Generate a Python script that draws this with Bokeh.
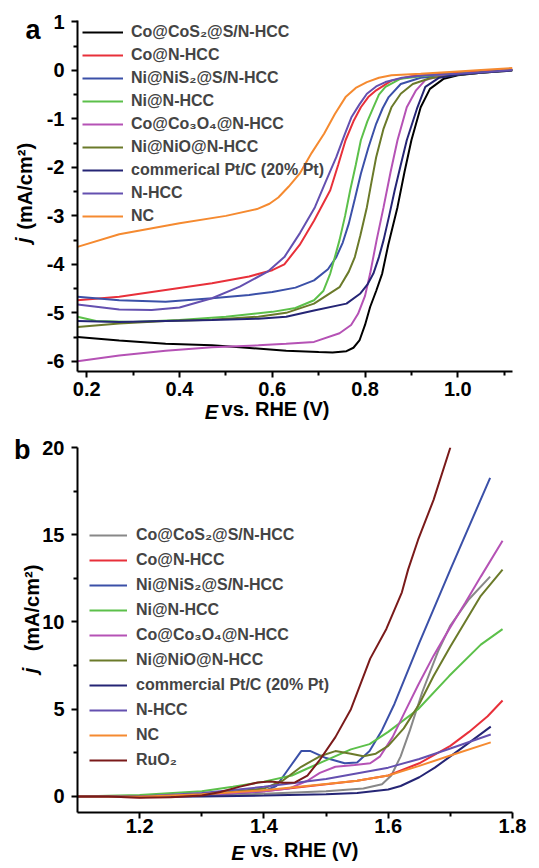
import math
from bokeh.plotting import figure
from bokeh.layouts import column
from bokeh.models import Legend, LegendItem, FixedTicker, LinearAxis
from bokeh.embed import file_html
from bokeh.resources import INLINE

# ---------------- Panel a (ORR LSV) ----------------
A_LABELS = ["Co@CoS₂@S/N-HCC", "Co@N-HCC", "Ni@NiS₂@S/N-HCC", "Ni@N-HCC",
            "Co@Co₃O₄@N-HCC", "Ni@NiO@N-HCC", "commerical Pt/C (20% Pt)", "N-HCC", "NC"]

a_E_CoCoS2 = [0.18, 0.27, 0.37, 0.47, 0.53, 0.63, 0.70, 0.73, 0.76, 0.775, 0.788, 0.80, 0.811, 0.824, 0.837, 0.85, 0.87, 0.885, 0.90, 0.92, 0.94, 0.97, 1.0, 1.05, 1.118]
a_j_CoCoS2 = [-5.50, -5.57, -5.64, -5.67, -5.71, -5.78, -5.81, -5.82, -5.79, -5.72, -5.57, -5.25, -4.88, -4.55, -4.19, -3.6, -2.82, -2.1, -1.44, -0.76, -0.38, -0.17, -0.1, -0.05, 0.01]

a_E_CoNHCC = [0.18, 0.27, 0.37, 0.47, 0.55, 0.60, 0.626, 0.659, 0.69, 0.725, 0.742, 0.758, 0.775, 0.791, 0.807, 0.824, 0.857, 0.9, 0.95, 1.0, 1.05, 1.118]
a_j_CoNHCC = [-4.74, -4.67, -4.53, -4.39, -4.25, -4.12, -4.0, -3.6, -3.1, -2.47, -1.95, -1.44, -1.05, -0.76, -0.55, -0.41, -0.21, -0.12, -0.08, -0.05, -0.02, 0.02]

a_E_NiNiS2 = [0.18, 0.27, 0.37, 0.47, 0.55, 0.60, 0.65, 0.69, 0.72, 0.738, 0.752, 0.765, 0.778, 0.791, 0.807, 0.824, 0.838, 0.851, 0.877, 0.92, 1.0, 1.05, 1.118]
a_j_NiNiS2 = [-4.67, -4.74, -4.77, -4.70, -4.63, -4.57, -4.48, -4.33, -4.1, -3.85, -3.55, -3.16, -2.65, -2.13, -1.6, -1.1, -0.78, -0.55, -0.28, -0.15, -0.08, -0.04, 0.01]

a_E_NiNHCC = [0.18, 0.22, 0.30, 0.40, 0.50, 0.60, 0.65, 0.69, 0.71, 0.725, 0.735, 0.745, 0.757, 0.768, 0.78, 0.791, 0.805, 0.818, 0.83, 0.844, 0.877, 0.93, 1.0, 1.05, 1.118]
a_j_NiNHCC = [-5.08, -5.17, -5.19, -5.15, -5.08, -4.98, -4.90, -4.74, -4.55, -4.19, -3.85, -3.5, -3.0, -2.47, -1.95, -1.44, -1.05, -0.76, -0.5, -0.34, -0.17, -0.11, -0.07, -0.04, 0.01]

a_E_CoCo3O4 = [0.18, 0.27, 0.37, 0.47, 0.57, 0.63, 0.69, 0.745, 0.77, 0.785, 0.80, 0.811, 0.825, 0.84, 0.855, 0.87, 0.89, 0.91, 0.93, 0.96, 1.0, 1.05, 1.118]
a_j_CoCo3O4 = [-6.0, -5.88, -5.78, -5.71, -5.67, -5.64, -5.60, -5.42, -5.25, -5.02, -4.65, -4.19, -3.5, -2.82, -2.1, -1.44, -0.76, -0.41, -0.2, -0.12, -0.08, -0.04, 0.01]

a_E_NiNiO = [0.18, 0.27, 0.37, 0.47, 0.57, 0.63, 0.69, 0.745, 0.765, 0.778, 0.79, 0.804, 0.814, 0.824, 0.84, 0.857, 0.877, 0.903, 0.94, 1.0, 1.05, 1.118]
a_j_NiNiO = [-5.29, -5.22, -5.17, -5.14, -5.08, -5.0, -4.81, -4.47, -4.15, -3.85, -3.4, -2.82, -2.3, -1.79, -1.2, -0.76, -0.48, -0.28, -0.16, -0.09, -0.05, 0.0]

a_E_PtC = [0.18, 0.27, 0.37, 0.47, 0.57, 0.63, 0.69, 0.76, 0.79, 0.805, 0.818, 0.83, 0.84, 0.852, 0.864, 0.877, 0.89, 0.913, 0.93, 0.96, 1.0, 1.05, 1.118]
a_j_PtC = [-5.17, -5.19, -5.17, -5.15, -5.12, -5.08, -4.95, -4.81, -4.60, -4.42, -4.19, -3.85, -3.5, -3.0, -2.47, -1.95, -1.44, -0.76, -0.34, -0.15, -0.09, -0.05, 0.0]

a_E_NHCC = [0.18, 0.27, 0.34, 0.40, 0.47, 0.53, 0.59, 0.626, 0.66, 0.692, 0.715, 0.738, 0.755, 0.771, 0.788, 0.804, 0.824, 0.844, 0.88, 0.93, 1.0, 1.05, 1.118]
a_j_NHCC = [-4.83, -4.93, -4.94, -4.89, -4.70, -4.46, -4.15, -3.85, -3.35, -2.82, -2.3, -1.79, -1.35, -0.96, -0.7, -0.48, -0.33, -0.24, -0.15, -0.1, -0.07, -0.04, 0.01]

a_E_NC = [0.18, 0.27, 0.40, 0.50, 0.567, 0.594, 0.613, 0.635, 0.659, 0.685, 0.712, 0.735, 0.758, 0.78, 0.804, 0.83, 0.857, 0.92, 1.0, 1.05, 1.118]
a_j_NC = [-3.64, -3.38, -3.15, -3.0, -2.86, -2.75, -2.62, -2.4, -2.13, -1.7, -1.3, -0.9, -0.55, -0.36, -0.24, -0.15, -0.10, -0.07, -0.02, 0.01, 0.05]

A_COLORS = ["#000000", "#e8303a", "#3b50a8", "#5cc04a", "#b552b5", "#6b7a2a", "#252575", "#6450b0", "#f58a30"]

A_X_TICKS = [0.2, 0.4, 0.6, 0.8, 1.0]
A_X_MINOR = [0.3, 0.5, 0.7, 0.9, 1.1]
A_Y_TICKS = [-6, -5, -4, -3, -2, -1, 0, 1]
A_Y_MINOR = [-5.5, -4.5, -3.5, -2.5, -1.5, -0.5, 0.5]

# ---------------- Panel b (OER LSV) ----------------
B_LABELS = ["Co@CoS₂@S/N-HCC", "Co@N-HCC", "Ni@NiS₂@S/N-HCC", "Ni@N-HCC",
            "Co@Co₃O₄@N-HCC", "Ni@NiO@N-HCC", "commercial Pt/C (20% Pt)", "N-HCC", "NC", "RuO₂"]

b_E_CoCoS2 = [1.1, 1.2, 1.3, 1.4, 1.5, 1.56, 1.59, 1.605, 1.62, 1.635, 1.655, 1.68, 1.70, 1.73, 1.764]
b_j_CoCoS2 = [0.0, -0.03, 0.05, 0.15, 0.3, 0.45, 0.7, 1.2, 2.3, 3.8, 6.0, 8.3, 9.8, 11.3, 12.6]

b_E_CoNHCC = [1.1, 1.2, 1.3, 1.4, 1.5, 1.55, 1.6, 1.65, 1.7, 1.73, 1.76, 1.784]
b_j_CoNHCC = [0.0, -0.05, 0.1, 0.3, 0.7, 0.9, 1.2, 1.9, 2.9, 3.7, 4.6, 5.5]

b_E_NiNiS2 = [1.1, 1.2, 1.3, 1.4, 1.42, 1.44, 1.46, 1.475, 1.5, 1.53, 1.55, 1.57, 1.59, 1.61, 1.65, 1.70, 1.764]
b_j_NiNiS2 = [0.0, -0.03, 0.05, 0.3, 0.6, 1.6, 2.6, 2.6, 2.2, 1.9, 1.95, 2.6, 3.8, 5.3, 8.8, 13.0, 18.26]

b_E_NiNHCC = [1.1, 1.2, 1.3, 1.35, 1.4, 1.445, 1.47, 1.495, 1.54, 1.57, 1.6, 1.648, 1.698, 1.749, 1.784]
b_j_NiNHCC = [0.0, 0.08, 0.3, 0.55, 0.85, 1.2, 1.6, 2.0, 2.7, 3.0, 3.7, 5.0, 6.9, 8.7, 9.59]

b_E_CoCo3O4 = [1.1, 1.2, 1.3, 1.4, 1.44, 1.47, 1.49, 1.515, 1.546, 1.571, 1.587, 1.607, 1.627, 1.648, 1.673, 1.698, 1.724, 1.749, 1.784]
b_j_CoCo3O4 = [0.0, -0.02, 0.08, 0.3, 0.45, 0.9, 1.35, 1.7, 1.8, 1.9, 2.3, 3.4, 4.86, 6.37, 8.07, 9.59, 11.1, 12.6, 14.66]

b_E_NiNiO = [1.1, 1.2, 1.3, 1.4, 1.43, 1.46, 1.49, 1.515, 1.54, 1.56, 1.58, 1.6, 1.625, 1.65, 1.673, 1.70, 1.749, 1.784]
b_j_NiNiO = [0.0, 0.0, 0.1, 0.45, 0.9, 1.7, 2.3, 2.6, 2.45, 2.3, 2.45, 2.9, 3.9, 5.3, 6.9, 8.6, 11.5, 13.0]

b_E_PtC = [1.1, 1.2, 1.3, 1.4, 1.5, 1.55, 1.6, 1.62, 1.65, 1.675, 1.7, 1.727, 1.765]
b_j_PtC = [0.0, -0.03, 0.0, 0.05, 0.12, 0.2, 0.4, 0.6, 1.1, 1.65, 2.3, 3.0, 4.0]

b_E_NHCC = [1.1, 1.2, 1.3, 1.4, 1.5, 1.6, 1.65, 1.7, 1.765]
b_j_NHCC = [0.0, 0.0, 0.2, 0.55, 1.0, 1.65, 2.15, 2.75, 3.55]

b_E_NC = [1.1, 1.2, 1.3, 1.4, 1.5, 1.55, 1.6, 1.65, 1.7, 1.765]
b_j_NC = [0.0, -0.02, 0.12, 0.35, 0.72, 0.9, 1.2, 1.75, 2.35, 3.1]

b_E_RuO2 = [1.1, 1.15, 1.2, 1.25, 1.3, 1.33, 1.36, 1.39, 1.41, 1.43, 1.45, 1.47, 1.49, 1.515, 1.54, 1.571, 1.597, 1.622, 1.632, 1.648, 1.673, 1.70]
b_j_RuO2 = [0.0, 0.0, -0.08, -0.05, 0.05, 0.25, 0.55, 0.8, 0.85, 0.78, 0.8, 1.2, 2.1, 3.4, 5.0, 7.9, 9.6, 11.7, 13.0, 14.7, 17.0, 20.0]

B_COLORS = ["#888888", "#e8303a", "#3b50a8", "#5cc04a", "#b552b5", "#6b7a2a", "#252575", "#6450b0", "#f58a30", "#7a1a1a"]

B_X_TICKS = [1.2, 1.4, 1.6, 1.8]
B_X_MINOR = [1.3, 1.5, 1.7]
B_Y_TICKS = [0, 5, 10, 15, 20]
B_Y_MINOR = [2.5, 7.5, 12.5, 17.5]

# Axis-title texts
X_TITLE_VAR = "E"
X_TITLE_REST = "vs. RHE (V)"
Y_TITLE_VAR = "j"
Y_TITLE_REST = "(mA/cm²)"

FONT = "Liberation Sans"


def style_axes(p, xt, xm, yt, ym, xfmt, yfmt, x_standoff, y_standoff):
    p.xaxis.ticker = FixedTicker(ticks=xt, minor_ticks=xm)
    p.yaxis.ticker = FixedTicker(ticks=yt, minor_ticks=ym)
    p.xaxis.major_label_overrides = {t: xfmt(t) for t in xt}
    p.yaxis.major_label_overrides = {t: yfmt(t) for t in yt}
    for ax in (p.xaxis, p.yaxis):
        ax.axis_line_width = 2
        ax.axis_line_color = "black"
        ax.major_tick_line_width = 2
        ax.minor_tick_line_width = 2
        ax.major_tick_line_color = "black"
        ax.minor_tick_line_color = "black"
        ax.major_tick_out = 6
        ax.major_tick_in = 0
        ax.minor_tick_out = 4
        ax.minor_tick_in = 0
        ax.major_label_text_font = FONT
        ax.major_label_text_font_style = "bold"
        ax.major_label_text_font_size = "20px"
        ax.major_label_text_color = "black"
    p.xaxis.major_label_standoff = x_standoff
    p.yaxis.major_label_standoff = y_standoff
    p.xgrid.visible = False
    p.ygrid.visible = False
    p.outline_line_color = None


def text_axis(p, side, pos, text, size="20px", style="bold", standoff=0,
              orientation="horizontal"):
    """An axis with no line/ticks whose single tick label carries a text."""
    ax = LinearAxis(ticker=FixedTicker(ticks=[pos], minor_ticks=[]),
                    major_label_overrides={pos: text},
                    axis_line_color=None, major_tick_line_color=None,
                    minor_tick_line_color=None,
                    major_tick_out=0, major_tick_in=0,
                    minor_tick_out=0, minor_tick_in=0,
                    major_label_standoff=standoff,
                    major_label_orientation=orientation,
                    major_label_text_font=FONT,
                    major_label_text_font_size=size,
                    major_label_text_font_style=style,
                    major_label_text_color="black")
    p.add_layout(ax, side)


# ---------- figure a ----------
pa = figure(width=539, height=430, x_range=(0.18, 1.118), y_range=(-6.21, 1.03),
            min_border_left=77, min_border_right=0, min_border_top=20, min_border_bottom=59,
            output_backend="svg", toolbar_location=None)
style_axes(pa, A_X_TICKS, A_X_MINOR, A_Y_TICKS, A_Y_MINOR,
           lambda t: f"{t:.1f}", lambda t: f"{t:d}", 4, 7)

a_series = [(a_E_CoCoS2, a_j_CoCoS2), (a_E_CoNHCC, a_j_CoNHCC), (a_E_NiNiS2, a_j_NiNiS2),
            (a_E_NiNHCC, a_j_NiNHCC), (a_E_CoCo3O4, a_j_CoCo3O4), (a_E_NiNiO, a_j_NiNiO),
            (a_E_PtC, a_j_PtC), (a_E_NHCC, a_j_NHCC), (a_E_NC, a_j_NC)]
a_items = []
for (xs, ys), lab, col in zip(a_series, A_LABELS, A_COLORS):
    r = pa.line(xs, ys, line_color=col, line_width=2)
    a_items.append(LegendItem(label=lab, renderers=[r]))

leg_a = Legend(items=a_items, location=(5, 146), margin=0, padding=0,
               spacing=5, label_height=18, glyph_height=18, glyph_width=41,
               label_standoff=8, label_text_font=FONT, label_text_font_style="bold",
               label_text_font_size="16px", border_line_color=None,
               background_fill_alpha=0)
pa.add_layout(leg_a)

# x title (below the tick labels), then the panel letter and y title (left)
text_axis(pa, "below", 0.607, X_TITLE_REST, standoff=-1)
text_axis(pa, "below", 0.469, X_TITLE_VAR, style="bold italic", standoff=-22)
text_axis(pa, "left", 0.825, "a", size="27px", standoff=3)
text_axis(pa, "left", -2.39, Y_TITLE_REST, standoff=-14, orientation="vertical")
text_axis(pa, "left", -3.5, Y_TITLE_VAR, style="bold italic", standoff=-23,
          orientation="vertical")

# ---------- figure b ----------
pb = figure(width=539, height=438, x_range=(1.1, 1.8), y_range=(-0.92, 20),
            min_border_left=73, min_border_right=27, min_border_top=17, min_border_bottom=56,
            output_backend="svg", toolbar_location=None)
style_axes(pb, B_X_TICKS, B_X_MINOR, B_Y_TICKS, B_Y_MINOR,
           lambda t: f"{t:.1f}", lambda t: f"{t:d}", 0, 7)

b_series = [(b_E_CoCoS2, b_j_CoCoS2), (b_E_CoNHCC, b_j_CoNHCC), (b_E_NiNiS2, b_j_NiNiS2),
            (b_E_NiNHCC, b_j_NiNHCC), (b_E_CoCo3O4, b_j_CoCo3O4), (b_E_NiNiO, b_j_NiNiO),
            (b_E_PtC, b_j_PtC), (b_E_NHCC, b_j_NHCC), (b_E_NC, b_j_NC), (b_E_RuO2, b_j_RuO2)]
b_items = []
for (xs, ys), lab, col in zip(b_series, B_LABELS, B_COLORS):
    r = pb.line(xs, ys, line_color=col, line_width=2)
    b_items.append(LegendItem(label=lab, renderers=[r]))

leg_b = Legend(items=b_items, location=(12, 43), margin=0, padding=0,
               spacing=7, label_height=18, glyph_height=18, glyph_width=38,
               label_standoff=9, label_text_font=FONT, label_text_font_style="bold",
               label_text_font_size="16px", border_line_color=None,
               background_fill_alpha=0)
pb.add_layout(leg_b)

text_axis(pb, "below", 1.4655, X_TITLE_REST, standoff=3)
text_axis(pb, "below", 1.358, X_TITLE_VAR, style="bold italic", standoff=-22)
text_axis(pb, "left", 10.8, Y_TITLE_REST, standoff=-4, orientation="vertical")
text_axis(pb, "left", 7.22, Y_TITLE_VAR, style="bold italic", standoff=-23,
          orientation="vertical")
text_axis(pb, "left", 19.83, "b", size="27px", standoff=-14)

layout = column(pa, pb, spacing=0)
open("out.html", "w").write(file_html(layout, INLINE))
